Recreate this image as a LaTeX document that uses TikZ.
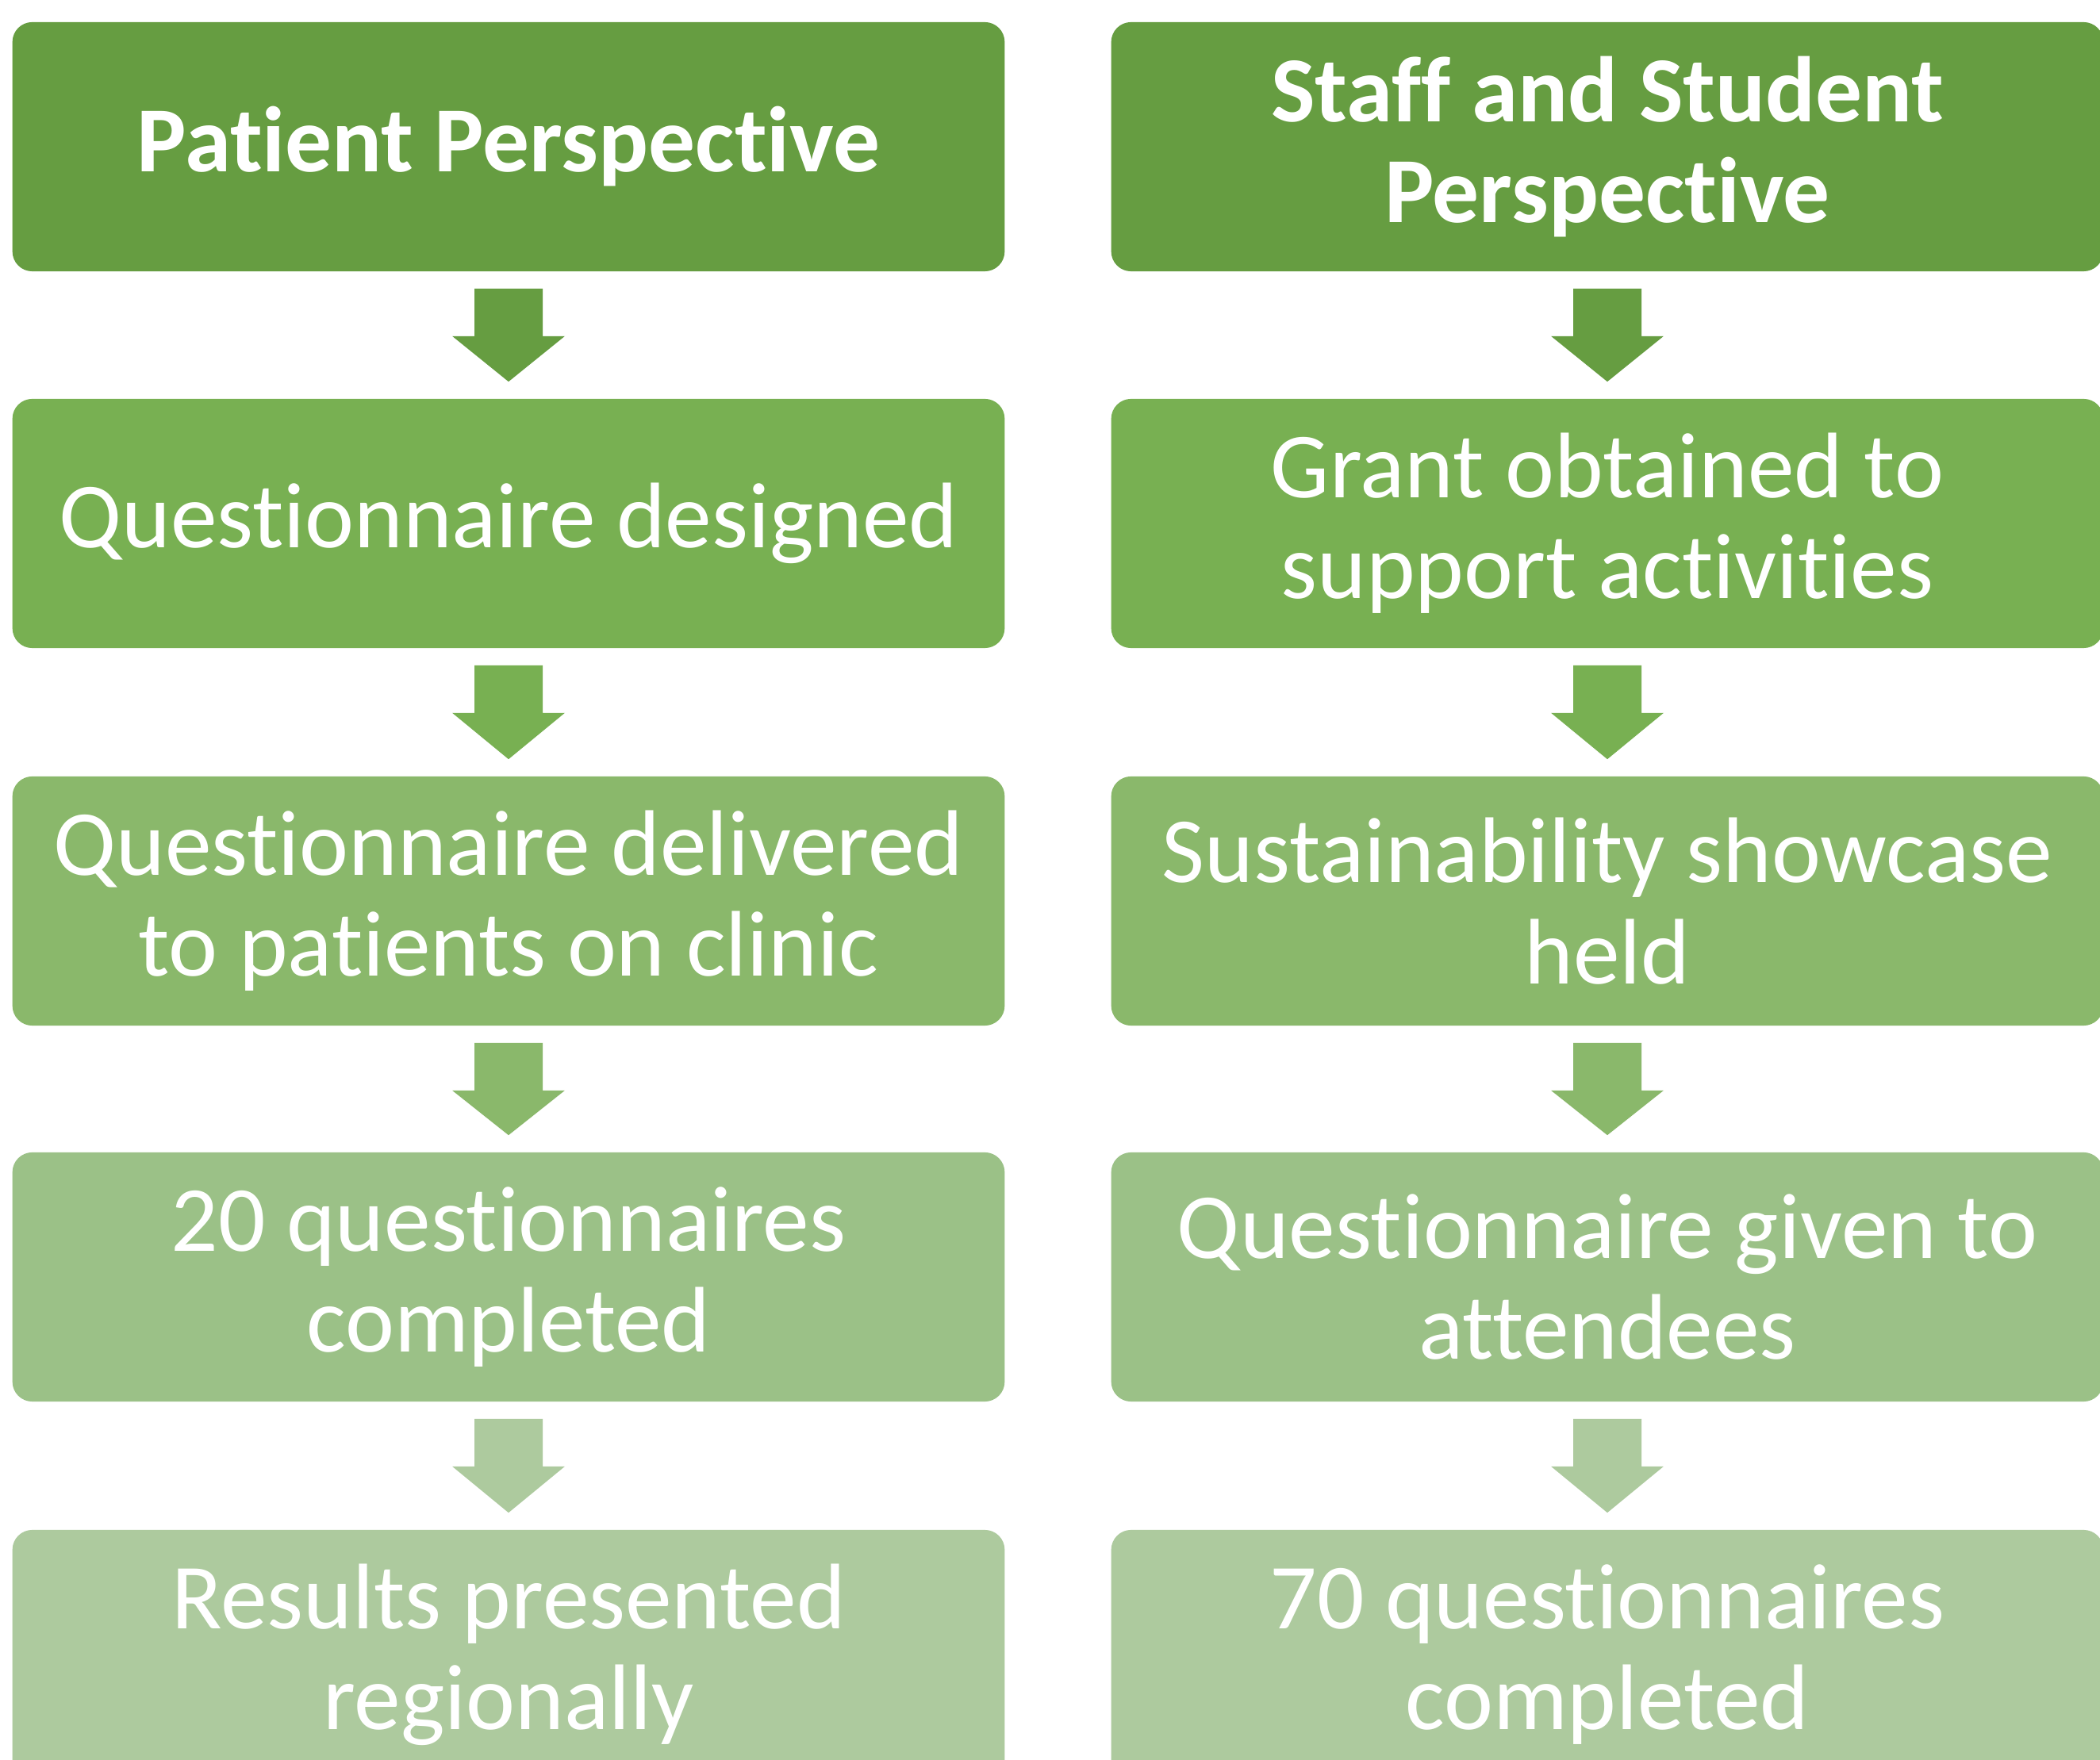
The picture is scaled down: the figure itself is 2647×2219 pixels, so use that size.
\documentclass[tikz,border=0pt]{standalone}
\usepackage{fontspec}
\setmainfont{Carlito}[RawFeature=-liga]
\usetikzlibrary{calc}
\definecolor{rowA}{RGB}{102,157,65}
\definecolor{rowB}{RGB}{120,176,82}
\definecolor{rowC}{RGB}{138,184,107}
\definecolor{rowD}{RGB}{155,193,135}
\definecolor{rowE}{RGB}{173,202,158}
\tikzset{
    stage/.style={rectangle,rounded corners=0.25cm,minimum width=12.5cm,minimum height=3.14cm,
        inner sep=0pt,align=center,text=white,font=\fontsize{33.4}{36.2}\selectfont},
    head/.style={stage,fill=rowA,font=\fontsize{33.4}{36.2}\selectfont\bfseries}
}
% block arrow pointing down from one stage to the next
\newcommand{\downarrowblock}[3]{%
    \fill[#3] ($(#1.south)+(-43,21)$) -- ($(#1.south)+(43,21)$) -- ($(#1.south)+(43,81)$)
        -- ($(#1.south)+(71,81)$) -- ($(#2.north)+(0,-21)$) -- ($(#1.south)+(-71,81)$)
        -- ($(#1.south)+(-43,81)$) -- cycle;}

\begin{document}
\begin{tikzpicture}[x=0.01cm,y=-0.01cm]
    \clip (0,0) rectangle (2647,2219);
    \fill[white] (0,0) rectangle (2647,2219);
    % patient column
    \node[head] (p1) at (641,185) {Patient Perspective};
    \node[stage,fill=rowB] (p2) at (641,660) {Questionnaire designed};
    \node[stage,fill=rowC] (p3) at (641,1136) {Questionnaire delivered\\to patients on clinic};
    \node[stage,fill=rowD] (p4) at (641,1610) {20 questionnaires\\completed};
    \node[stage,fill=rowE] (p5) at (641,2086) {Results presented\\regionally};
    % staff and student column
    \node[head] (s1) at (2026,185) {Staff and Student\\Perspective};
    \node[stage,fill=rowB] (s2) at (2026,660) {Grant obtained to\\support activities};
    \node[stage,fill=rowC] (s3) at (2026,1136) {Sustainability showcase\\held};
    \node[stage,fill=rowD] (s4) at (2026,1610) {Questionnaire given to\\attendees};
    \node[stage,fill=rowE] (s5) at (2026,2086) {70 questionnaires\\completed};
    % arrows
    \downarrowblock{p1}{p2}{rowA}
    \downarrowblock{p2}{p3}{rowB}
    \downarrowblock{p3}{p4}{rowC}
    \downarrowblock{p4}{p5}{rowE}
    \downarrowblock{s1}{s2}{rowA}
    \downarrowblock{s2}{s3}{rowB}
    \downarrowblock{s3}{s4}{rowC}
    \downarrowblock{s4}{s5}{rowE}
\end{tikzpicture}
\end{document}
